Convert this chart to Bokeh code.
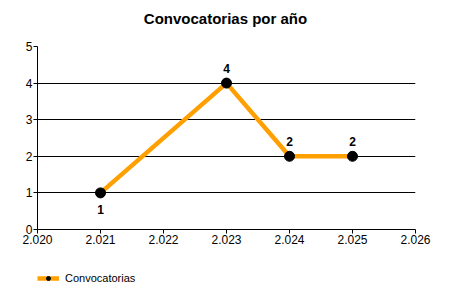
from bokeh.plotting import figure
from bokeh.layouts import column
from bokeh.models import ColumnDataSource, FixedTicker, Legend, LegendItem, Range1d, Label
from bokeh.core.properties import value
from bokeh.embed import file_html
from bokeh.resources import INLINE

years = [2021, 2023, 2024, 2025]
counts = [1, 4, 2, 2]
x_ticks = [2020, 2021, 2022, 2023, 2024, 2025, 2026]
x_tick_labels = ["2.020", "2.021", "2.022", "2.023", "2.024", "2.025", "2.026"]
y_ticks = [0, 1, 2, 3, 4, 5]
series_name = "Convocatorias"
title_text = "Convocatorias por año"

FONT = "Liberation Sans"
LINE_COLOR = "#FFA000"
FRAME_LEFT = 37


def strip(height):
    f = figure(width=450, height=height, output_backend="svg", toolbar_location=None,
               x_range=Range1d(0, 1), y_range=Range1d(0, 1),
               x_axis_location=None, y_axis_location=None,
               min_border_left=0, min_border_right=0,
               min_border_top=0, min_border_bottom=0, outline_line_color=None)
    f.grid.visible = False
    return f


# title strip (frames in the column are aligned with the main chart's frame)
hf = strip(30)
hf.add_layout(Label(x=225 - FRAME_LEFT, y=12, x_units="screen", y_units="screen",
                    text=title_text,
                    text_font=FONT, text_font_size="15px", text_font_style="bold",
                    text_color="black", text_align="center", text_baseline="middle"))

# main chart
p = figure(width=450, height=232, output_backend="svg", toolbar_location=None,
           x_range=Range1d(2020, 2026), y_range=Range1d(0, 5),
           min_border_left=FRAME_LEFT, min_border_right=35, min_border_top=16,
           min_border_bottom=33)
p.outline_line_color = None

p.xaxis.ticker = FixedTicker(ticks=x_ticks)
p.xaxis.major_label_overrides = {t: l for t, l in zip(x_ticks, x_tick_labels)}
p.yaxis.ticker = FixedTicker(ticks=y_ticks)
for ax in (p.xaxis, p.yaxis):
    ax.axis_line_color = "black"
    ax.major_tick_line_color = "black"
    ax.major_tick_in = 0
    ax.major_tick_out = 4
    ax.minor_tick_line_color = None
    ax.major_label_text_font = FONT
    ax.major_label_text_font_size = "12px"
    ax.major_label_text_color = "black"
    ax.major_label_standoff = 1
p.xgrid.grid_line_color = None
p.ygrid.ticker = FixedTicker(ticks=y_ticks[1:])
p.ygrid.grid_line_color = "black"
p.ygrid.grid_line_width = 1

src = ColumnDataSource(dict(x=years, y=counts, lbl=[str(c) for c in counts],
                            off=[17 if i == 0 else -15 for i, c in enumerate(counts)]))
p.line("x", "y", source=src, line_color=LINE_COLOR, line_width=4.5)
p.scatter("x", "y", source=src, size=10, fill_color="black", line_color="black")
p.text("x", "y", text="lbl", source=src, y_offset="off",
       text_font=value(FONT), text_font_size="12px", text_font_style="bold",
       text_align="center", text_baseline="middle", text_color="black")

# legend strip below the chart
lf = strip(38)
lln = lf.line("x", "y", source=src, line_color=LINE_COLOR, line_width=4.5)
lsc = lf.scatter("x", "y", source=src, size=6, fill_color="black", line_color="black")
leg = Legend(items=[LegendItem(label=series_name, renderers=[lln, lsc])],
             location=(0, 16), orientation="horizontal",
             background_fill_alpha=0, border_line_color=None,
             label_text_font=FONT, label_text_font_size="11px",
             label_text_color="black", label_height=13,
             glyph_width=22, glyph_height=10, padding=0, margin=0,
             label_standoff=6)
lf.add_layout(leg, "center")

layout = column(hf, p, lf, spacing=0)
open("out.html", "w").write(file_html(layout, INLINE))
